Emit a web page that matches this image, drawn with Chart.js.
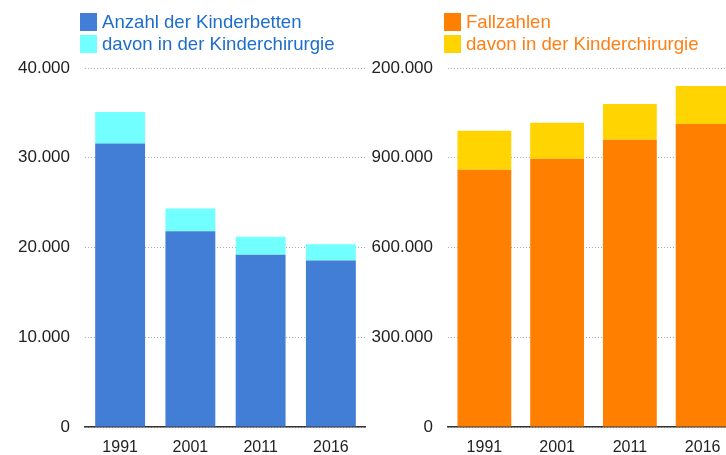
<!DOCTYPE html>
<html>
<head>
<meta charset="utf-8">
<script src="https://cdn.jsdelivr.net/npm/chart.js@4"></script>
<style>
  html, body { margin: 0; padding: 0; background: #fff; overflow: hidden; width: 726px; height: 455px; }
  .box { position: absolute; top: 0; height: 455px; }
  .legend { position: absolute; top: 11px; font-family: "Liberation Sans", Arial, sans-serif; font-size: 18.6px; line-height: 22px; }
  .legend div { display: flex; align-items: center; white-space: nowrap; }
  .legend span.sw { display: inline-block; width: 17px; height: 18px; margin-right: 5px; }
</style>
</head>
<body>
<div class="box" style="left:0;width:366px"><canvas id="bedsChart"></canvas></div>
<div class="box" style="left:363px;width:376px"><canvas id="casesChart"></canvas></div>
<div class="legend" id="bedsLegend" style="left:80px;color:#1e6ec9"></div>
<div class="legend" id="casesLegend" style="left:444px;color:#ff7f14"></div>
<script>
// data
const years = ['1991', '2001', '2011', '2016'];
const kinderbetten = [31600, 21800, 19200, 18550];
const bettenChirurgie = [3500, 2550, 2000, 1800];
const fallzahlen = [860000, 897000, 960000, 1013000];
const faelleChirurgie = [130000, 120000, 120000, 127000];
const bedsTicks = ['0', '10.000', '20.000', '30.000', '40.000'];
const casesTicks = ['0', '300.000', '600.000', '900.000', '200.000'];

Chart.defaults.font.family = '"Liberation Sans", Arial, sans-serif';
Chart.defaults.font.size = 16;
Chart.defaults.color = '#222';

function makeChart(id, legendId, labels, colors, values, max, step, tickLabels, barPct) {
  var ctx = document.getElementById(id);
  const config = {
    type: 'bar',
    data: {
      labels: years,
      datasets: [
        { label: labels[0], data: values[0], backgroundColor: colors[0] },
        { label: labels[1], data: values[1], backgroundColor: colors[1] }
      ]
    },
    options: {
      responsive: false,
      animation: false,
      layout: { padding: { top: 68, right: 0, left: 0, bottom: 0 } },
      datasets: { bar: { barPercentage: barPct, categoryPercentage: 1 } },
      plugins: { legend: { display: false }, tooltip: { enabled: false } },
      scales: {
        x: {
          stacked: true,
          grid: { display: false },
          border: { display: true, color: '#333', width: 1.5 },
          ticks: { padding: 3, font: { size: 16 } },
          afterFit: function(s) { s.height = 28; }
        },
        y: {
          stacked: true,
          min: 0,
          max: max,
          grid: { color: '#aaa', drawTicks: false, lineWidth: 1 },
          border: { display: false, dash: [1, 2] },
          ticks: {
            stepSize: step,
            padding: 15,
            font: { size: 17 },
            callback: function(v, i) { return tickLabels[i]; }
          },
          afterFit: function(s) { s.width = 85; }
        }
      }
    }
  };
  var chart = new Chart(ctx, config);

  // simple html legend from the datasets
  let leg = document.getElementById(legendId);
  chart.data.datasets.forEach(function(ds) {
    let row = document.createElement('div');
    row.innerHTML = '<span class="sw" style="background:' + ds.backgroundColor + '"></span>' + ds.label;
    leg.appendChild(row);
  });
  return chart;
}

const bedsCanvas = document.getElementById('bedsChart');
bedsCanvas.width = 366; bedsCanvas.height = 455;
const casesCanvas = document.getElementById('casesChart');
casesCanvas.width = 376; casesCanvas.height = 455;

makeChart('bedsChart', 'bedsLegend',
  ['Anzahl der Kinderbetten', 'davon in der Kinderchirurgie'],
  ['#427ed6', '#72ffff'],
  [kinderbetten, bettenChirurgie], 40000, 10000, bedsTicks, 0.71);

makeChart('casesChart', 'casesLegend',
  ['Fallzahlen', 'davon in der Kinderchirurgie'],
  ['#ff8000', '#ffd400'],
  [fallzahlen, faelleChirurgie], 1200000, 300000, casesTicks, 0.74);
</script>
</body>
</html>
